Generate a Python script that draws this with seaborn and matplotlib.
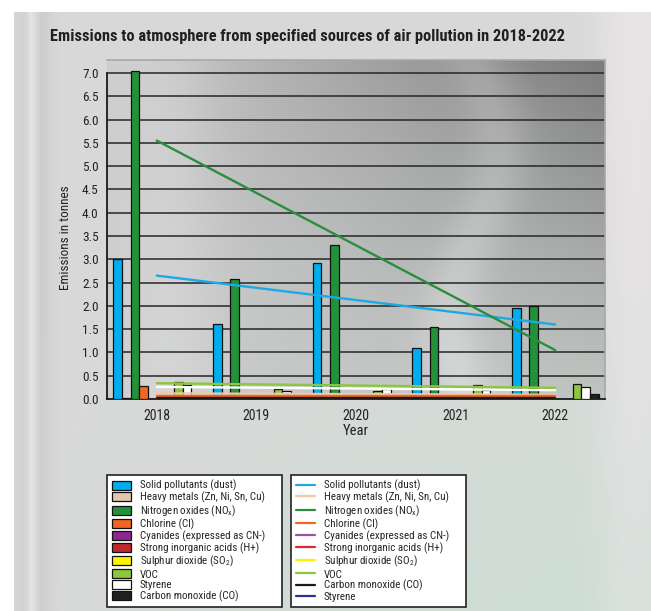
import numpy as np
import pandas as pd
import matplotlib
matplotlib.use("Agg")
import matplotlib.pyplot as plt
from matplotlib.patches import Patch
from matplotlib.lines import Line2D
import seaborn as sns

# ---- data -------------------------------------------------------------
years = ["2018", "2019", "2020", "2021", "2022"]

series_keys = ["solid", "heavy", "nox", "chlorine", "cyanides",
               "acids", "so2", "voc", "styrene", "co"]

bar_labels = [
    "Solid pollutants (dust)",
    "Heavy metals (Zn, Ni, Sn, Cu)",
    r"Nitrogen oxides (NO$_{\mathregular{x}}$)",
    "Chlorine (Cl)",
    "Cyanides (expressed as CN-)",
    "Strong inorganic acids (H+)",
    r"Sulphur dioxide (SO$_{\mathregular{2}}$)",
    "VOC",
    "Styrene",
    "Carbon monoxide (CO)",
]

solid = [3.00, 1.60, 2.92, 1.10, 1.95]
heavy = [0.02, 0.03, 0.02, 0.02, 0.02]
nox = [7.05, 2.58, 3.30, 1.55, 2.00]
chlorine = [0.28, 0.03, 0.02, 0.02, 0.02]
cyanides = [0.005, 0.005, 0.005, 0.005, 0.005]
acids = [0.01, 0.01, 0.01, 0.01, 0.01]
so2 = [0.01, 0.01, 0.01, 0.01, 0.01]
voc = [0.37, 0.22, 0.17, 0.30, 0.33]
styrene = [0.30, 0.18, 0.22, 0.20, 0.25]
co = [0.03, 0.02, 0.02, 0.02, 0.10]

# linear trend lines: value at 2018 and at 2022
trend_keys = ["heavy", "chlorine", "cyanides", "acids", "so2", "co",
              "styrene", "voc", "solid", "nox"]
trend_start = [0.12, 0.06, 0.01, 0.01, 0.01, 0.015, 0.26, 0.34, 2.65, 5.55]
trend_end = [0.09, 0.06, 0.01, 0.01, 0.01, 0.015, 0.19, 0.24, 1.60, 1.05]

# line legend (second box)
line_legend_keys = ["solid", "heavy", "nox", "chlorine", "cyanides",
                    "acids", "so2", "voc", "co", "styrene_leg"]
line_legend_labels = [
    "Solid pollutants (dust)",
    "Heavy metals (Zn, Ni, Sn, Cu)",
    r"Nitrogen oxides (NO$_{\mathregular{x}}$)",
    "Chlorine (Cl)",
    "Cyanides (expressed as CN-)",
    "Strong inorganic acids (H+)",
    r"Sulphur dioxide (SO$_{\mathregular{2}}$)",
    "VOC",
    "Carbon monoxide (CO)",
    "Styrene",
]

# ---- styling ----------------------------------------------------------
bar_colors = {
    "solid": "#00adef", "heavy": "#e3c6ac", "nox": "#23903a",
    "chlorine": "#f26522", "cyanides": "#8e278f", "acids": "#c1272d",
    "so2": "#fff200", "voc": "#8cc63f", "styrene": "#ffffff", "co": "#231f20",
}
line_colors = {
    "solid": "#1fa9e4", "heavy": "#f2c9a6", "nox": "#2a8e3c",
    "chlorine": "#f26522", "cyanides": "#9d4fa3", "acids": "#de2a2e",
    "so2": "#fff200", "voc": "#8cc63f", "styrene": "#ffffff", "co": "#1a1a1a",
    "styrene_leg": "#2e3192",
}

sns.set_style("white")
narrow = ["Roboto Condensed", "Liberation Sans Narrow",
          "DejaVu Sans Condensed", "Liberation Sans"]
plt.rcParams["font.family"] = narrow
plt.rcParams["font.stretch"] = "condensed"
plt.rcParams["mathtext.fontset"] = "custom"
plt.rcParams["mathtext.rm"] = "Roboto Condensed"
plt.rcParams["mathtext.it"] = "Roboto Condensed:italic"
plt.rcParams["mathtext.bf"] = "Roboto Condensed:bold"

W, H = 651, 611
fig = plt.figure(figsize=(W / 100, H / 100), dpi=100)
fig.patch.set_facecolor("white")

# ---- panel background -------------------------------------------------
bg = fig.add_axes([14 / W, 0, 1 - 14 / W, 1 - 12 / H], zorder=-10)
ny, nx = 120, 130
v, u = np.mgrid[0:1:ny * 1j, 0:1:nx * 1j]
base = np.array([0.85, 0.85, 0.85])
img = np.ones((ny, nx, 3)) * base
green = np.array([0.80, 0.87, 0.83])
pink = np.array([0.93, 0.91, 0.92])
wg = np.clip((v - 0.35) * 1.4, 0, 1)[..., None] * np.clip(u * 1.2, 0, 1)[..., None]
img = img * (1 - wg) + green * wg
wp = (np.exp(-((u - 0.98) ** 2) / 0.004) * np.clip(1 - v * 0.5, 0, 1))[..., None]
img = img * (1 - 0.8 * wp) + pink * 0.8 * wp
band = np.exp(-((u - 0.03) ** 2) / 0.0006)[..., None]
img = img * (1 - 0.6 * band) + np.array([0.76, 0.76, 0.76]) * 0.6 * band
streak = np.exp(-((u - 0.025) ** 2) / 0.00006)[..., None]
img = img * (1 - 0.5 * streak) + 0.5 * streak
bg.imshow(img, aspect="auto", interpolation="bilinear", extent=(0, 1, 0, 1))
bg.set_xlim(0, 1)
bg.set_ylim(0, 1)
bg.axis("off")

# ---- main axes --------------------------------------------------------
ax = fig.add_axes([107 / W, 1 - 399 / H, (605 - 107) / W, (399 - 60) / H])
ymax = 7.28

# metallic plot-area fill
py, px = 100, 120
vv, uu = np.mgrid[0:1:py * 1j, 0:1:px * 1j]
shade = 0.80 - 0.26 * uu * (1 - vv) ** 1.2 - 0.05 * uu
shade += 0.07 * np.exp(-((uu - 0.74 - 0.05 * np.sin(vv * 6)) ** 2) / 0.004)
shade += 0.04 * np.exp(-((uu - 0.12) ** 2) / 0.01)
plot_img = np.stack([shade, shade, shade + 0.005], axis=-1)
plot_img[..., 1] += 0.02 * vv * uu
plot_img = np.clip(plot_img, 0, 1)
ax.imshow(plot_img, aspect="auto", interpolation="bilinear",
          extent=(-0.5, 4.5, 0, ymax), zorder=0)

# horizontal grid
for yv in np.arange(0.5, 7.01, 0.5):
    ax.axhline(yv, color="#262626", lw=1.1, zorder=1)

bars = pd.DataFrame({
    "year": np.repeat(years, len(series_keys)),
    "series": series_keys * len(years),
    "value": np.array([solid, heavy, nox, chlorine, cyanides,
                       acids, so2, voc, styrene, co]).T.ravel(),
})
sns.barplot(data=bars, x="year", y="value", hue="series", order=years,
            hue_order=series_keys, palette=bar_colors, width=0.87, gap=0,
            saturation=1, edgecolor="#111111", linewidth=0.9,
            legend=False, ax=ax, zorder=3)

trend = pd.DataFrame({
    "pos": np.concatenate([[0.0] * len(trend_keys), [4.0] * len(trend_keys)]),
    "series": trend_keys * 2,
    "value": trend_start + trend_end,
})
for k in trend_keys:
    sns.lineplot(data=trend[trend["series"] == k], x="pos", y="value",
                 color=line_colors[k], linewidth=1.7, ax=ax, zorder=4,
                 legend=False)

ax.set_xlim(-0.5, 4.5)
ax.set_ylim(0, ymax)
ax.set_yticks(np.arange(0, 7.01, 0.5))
ax.set_yticklabels([f"{t:.1f}" for t in np.arange(0, 7.01, 0.5)], fontsize=9.5)
ax.set_xticks(range(len(years)))
ax.set_xticklabels(years, fontsize=10)
ax.set_xticks(np.arange(-0.5, 4.6, 1.0), minor=True)
ax.tick_params(axis="x", which="major", length=0, pad=7, colors="#222222")
ax.tick_params(axis="x", which="minor", length=5, width=1, color="#222222")
ax.tick_params(axis="y", length=4, width=1, color="#222222", pad=2,
               colors="#222222")
ax.set_xlabel("Year", fontsize=10.5, labelpad=1, color="#222222")
ax.set_ylabel("Emissions in tonnes", fontsize=9.5, color="#222222")
ax.yaxis.set_label_coords(-0.07, (399 - 238) / 339)

for side in ["top", "right"]:
    ax.spines[side].set_color("#a8a8a8")
    ax.spines[side].set_linewidth(1.2)
ax.spines["left"].set_color("#1a1a1a")
ax.spines["left"].set_linewidth(1.3)
ax.spines["left"].set_bounds(0, 7.0)
ax.spines["bottom"].set_color("#1a1a1a")
ax.spines["bottom"].set_linewidth(1.3)

fig.text(50 / W, 1 - 37 / H,
         "Emissions to atmosphere from specified sources of air pollution in 2018-2022",
         fontsize=11.8, fontweight="bold", color="#231f20", va="center", ha="left")

# ---- legends ----------------------------------------------------------
bar_handles = [Patch(facecolor=bar_colors[k], edgecolor="#111111", linewidth=0.9)
               for k in series_keys]
line_handles = [Line2D([0], [0], color=line_colors[k], lw=1.6)
                for k in line_legend_keys]

leg_kw = dict(loc="upper left", mode="expand", borderaxespad=0, fontsize=7.9,
              frameon=True, fancybox=False, framealpha=1, edgecolor="#222222",
              labelspacing=0.02, handlelength=1.75, handleheight=0.9,
              handletextpad=0.8, borderpad=0.45)
leg1 = fig.legend(bar_handles, bar_labels,
                  bbox_to_anchor=(107 / W, 1 - 475 / H, 175 / W, 0), **leg_kw)
leg1.get_frame().set_linewidth(1.2)
leg2 = fig.legend(line_handles, line_legend_labels,
                  bbox_to_anchor=(291 / W, 1 - 475 / H, 175 / W, 0), **leg_kw)
leg2.get_frame().set_linewidth(1.2)

fig.savefig("out.png", dpi=100)
